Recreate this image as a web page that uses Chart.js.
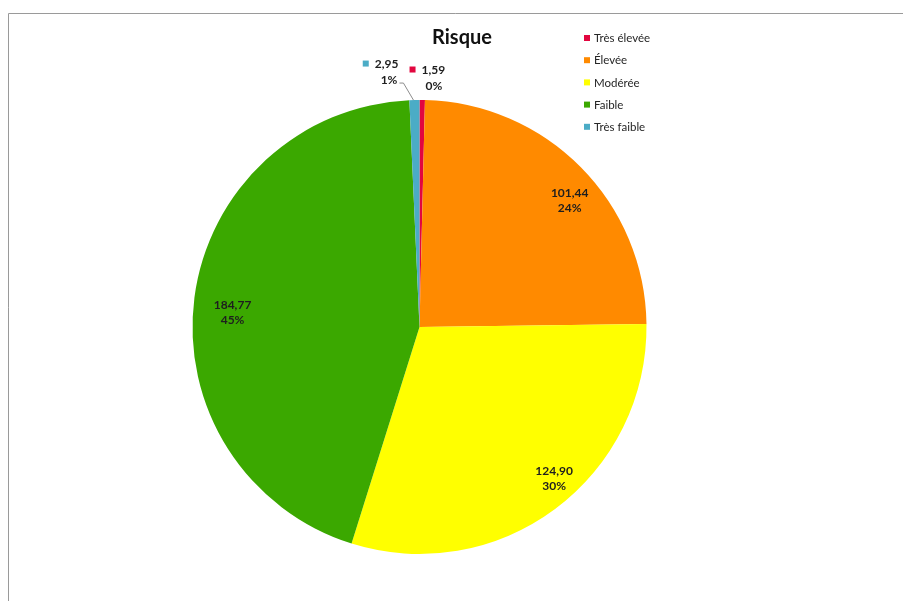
<!DOCTYPE html>
<html>
<head>
<meta charset="utf-8">
<script src="https://cdn.jsdelivr.net/npm/chart.js@4.4.1/dist/chart.umd.min.js"></script>
<style>
  html, body { margin: 0; padding: 0; background: #ffffff; }
  #wrap { position: relative; width: 903px; height: 601px; }
</style>
</head>
<body>
<div id="wrap"><canvas id="c" width="903" height="601"></canvas></div>
<script>
// ---- Data ----
const categories = ['Très élevée', 'Élevée', 'Modérée', 'Faible', 'Très faible'];
const values = [1.59, 101.44, 124.90, 184.77, 2.95];
const valueLabels = ['1,59', '101,44', '124,90', '184,77', '2,95'];
const percentLabels = ['0%', '24%', '30%', '45%', '1%'];
const sliceColors = ['#E2063F', '#FF8A00', '#FFFF00', '#3BA800', '#4BACC6'];
const chartTitle = 'Risque';

const FONT = 'Lato, "Open Sans", "Liberation Sans", sans-serif';

const decorPlugin = {
  id: 'decor',
  afterDraw(chart, args, opts) {
    const ctx = chart.ctx;
    ctx.save();
    // frame
    ctx.strokeStyle = '#9a9a9a';
    ctx.lineWidth = 1;
    ctx.beginPath();
    ctx.moveTo(8.5, 601);
    ctx.lineTo(8.5, 13.5);
    ctx.lineTo(903, 13.5);
    ctx.stroke();

    // title
    ctx.fillStyle = '#111';
    ctx.font = 'bold 20px ' + FONT;
    ctx.textAlign = 'center';
    ctx.textBaseline = 'middle';
    ctx.fillText(chartTitle, 462, 38);

    // legend
    ctx.font = '11.5px ' + FONT;
    ctx.textAlign = 'left';
    categories.forEach((cat, i) => {
      const y = 38 + i * 22.2;
      ctx.fillStyle = sliceColors[i];
      ctx.fillRect(584, y - 3, 6, 6);
      ctx.fillStyle = '#262626';
      ctx.fillText(cat, 594, y + 0.5);
    });

    // data labels
    const meta = chart.getDatasetMeta(0);
    ctx.font = 'bold 12px ' + FONT;
    meta.data.forEach((arc, i) => {
      const p = arc.getProps(['x', 'y', 'startAngle', 'endAngle', 'outerRadius'], true);
      const mid = (p.startAngle + p.endAngle) / 2;
      const o = opts.labels[i];
      if (o.inside) {
        const r = p.outerRadius * o.r;
        const cx = p.x + Math.cos(mid) * r + o.dx;
        const cy = p.y + Math.sin(mid) * r + o.dy;
        ctx.fillStyle = '#1e1e1e';
        ctx.textAlign = 'center';
        ctx.fillText(valueLabels[i], cx, cy - 7.5);
        ctx.fillText(percentLabels[i], cx, cy + 8);
      } else {
        const ax = p.x + Math.cos(mid) * p.outerRadius;
        const ay = p.y + Math.sin(mid) * p.outerRadius;
        const rx = ax + o.dx;       // right edge of text block
        const ty = ay + o.dy;       // first line centre
        ctx.fillStyle = '#1e1e1e';
        ctx.textAlign = 'right';
        ctx.fillText(valueLabels[i], rx, ty);
        const w1 = ctx.measureText(valueLabels[i]).width;
        ctx.fillStyle = sliceColors[i];
        ctx.fillRect(rx - w1 - 12, ty - 3.5, 6, 6);
        ctx.fillStyle = '#1e1e1e';
        ctx.fillText(percentLabels[i], rx + o.px, ty + 16.5);
        if (o.leader) {
          ctx.strokeStyle = '#8c8c8c';
          ctx.lineWidth = 1;
          ctx.beginPath();
          ctx.moveTo(rx + 1, ty + 19);
          ctx.lineTo(rx + 5, ty + 19);
          ctx.lineTo(ax - 1, ay);
          ctx.stroke();
        }
      }
    });
    ctx.restore();
  }
};

new Chart(document.getElementById('c'), {
  type: 'pie',
  data: {
    labels: categories,
    datasets: [{
      data: values,
      backgroundColor: sliceColors,
      borderWidth: 0,
      hoverOffset: 0
    }]
  },
  options: {
    responsive: false,
    animation: false,
    events: [],
    layout: { padding: { left: 192, right: 256, top: 100, bottom: 47 } },
    plugins: {
      legend: { display: false },
      title: { display: false },
      tooltip: { enabled: false },
      decor: {
        labels: [
          { inside: false, dx: 23, dy: -30, px: -3, leader: false },
          { inside: true, r: 0.875, dx: 9, dy: 13 },
          { inside: true, r: 0.875, dx: 16, dy: -8 },
          { inside: true, r: 0.875, dx: 10, dy: 11 },
          { inside: false, dx: -16, dy: -36, px: -1, leader: true }
        ]
      }
    }
  },
  plugins: [decorPlugin]
});
</script>
</body>
</html>
